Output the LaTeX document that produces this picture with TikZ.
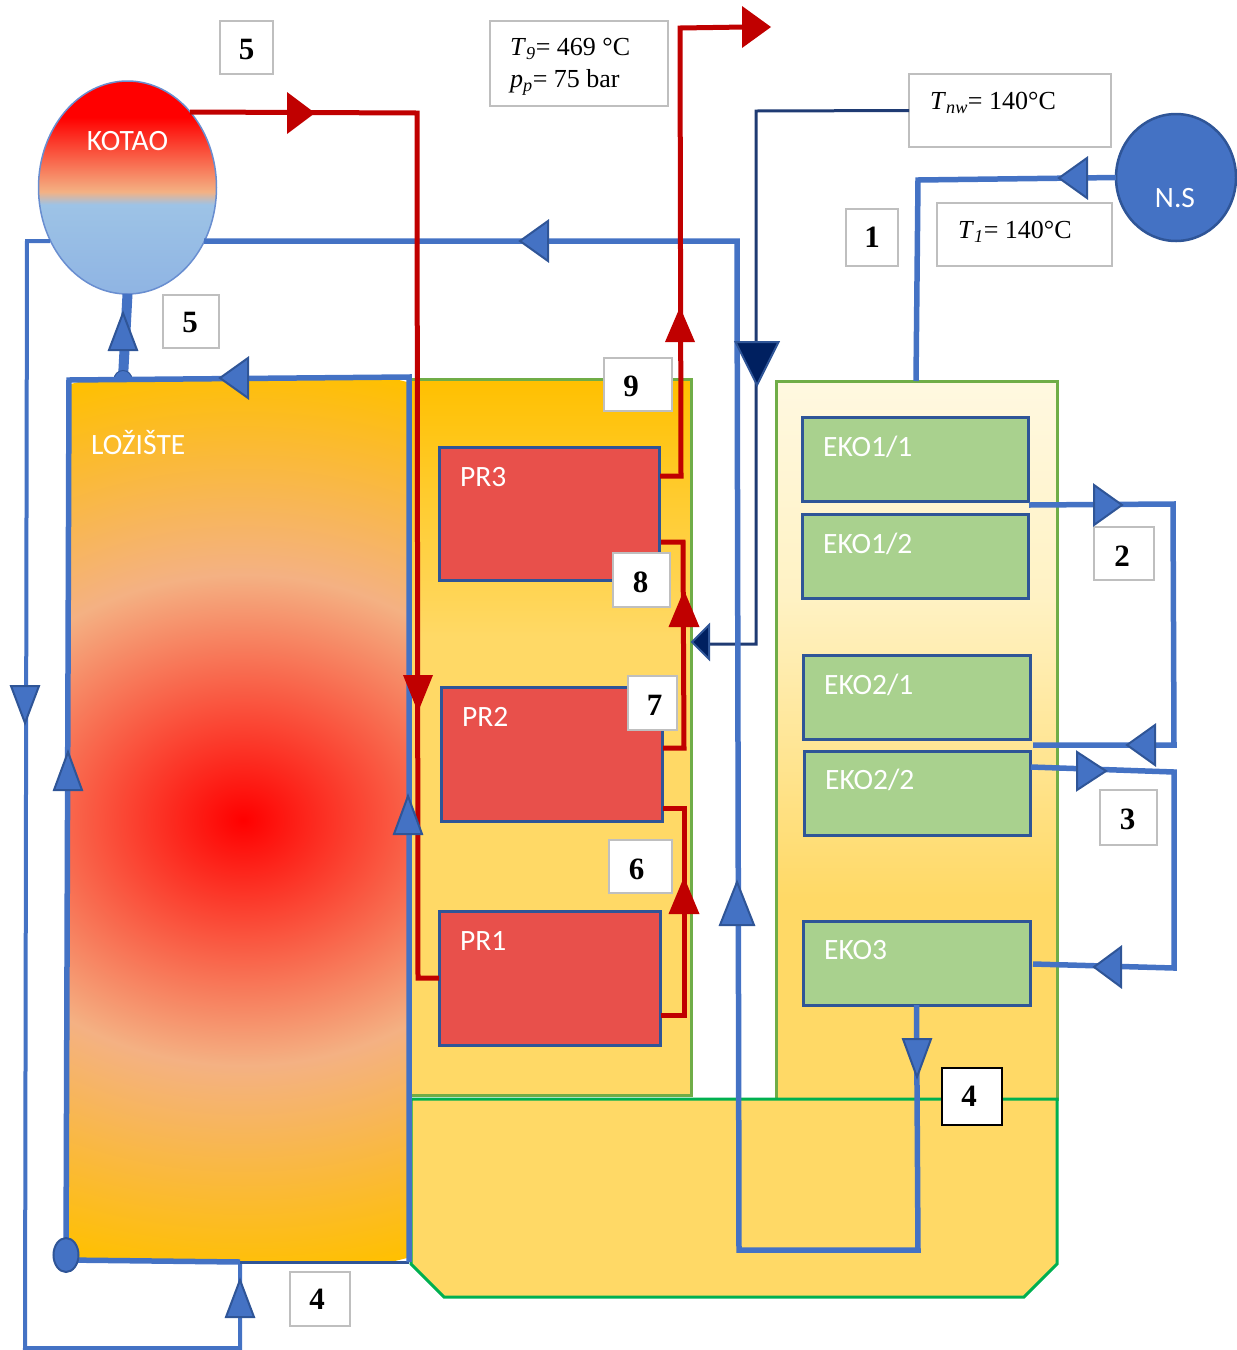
\documentclass[tikz,border=0pt]{standalone}
\usepackage{fontspec}
\setmainfont{Liberation Serif}
\newfontfamily\calibrifont{Carlito}
\usetikzlibrary{shapes.geometric}

\definecolor{waterblue}{HTML}{4472C4}
\definecolor{edgeblue}{HTML}{2F5597}
\definecolor{navypipe}{HTML}{002060}
\definecolor{steamred}{HTML}{C00000}
\definecolor{boxgray}{HTML}{BFBFBF}
\definecolor{heatred}{HTML}{E8504B}
\definecolor{ekogreen}{HTML}{A9D18E}
\definecolor{wallgreen}{HTML}{70AD47}
\definecolor{floorgreen}{HTML}{00B050}
\definecolor{gold}{HTML}{FFC000}
\definecolor{lightgold}{HTML}{FFD966}
\definecolor{cream}{HTML}{FFF2C4}
\definecolor{palecream}{HTML}{FFF8E0}
\definecolor{salmon}{HTML}{F4B183}
\definecolor{drumblue}{HTML}{9DC3E6}
\definecolor{drumbluelow}{HTML}{8FB4E3}

\pgfdeclareverticalshading{kotaoshade}{100bp}{color(0bp)=(drumbluelow); color(25bp)=(drumbluelow); color(46bp)=(drumblue); color(49bp)=(salmon); color(66.5bp)=(red); color(100bp)=(red)}
\pgfdeclareverticalshading{leftshade}{100bp}{color(0bp)=(lightgold); color(57bp)=(lightgold); color(75bp)=(gold); color(100bp)=(gold)}
\pgfdeclareverticalshading{rightshade}{100bp}{color(0bp)=(lightgold); color(39bp)=(lightgold); color(60bp)=(cream); color(75bp)=(palecream); color(100bp)=(palecream)}
\pgfdeclareradialshading{fireshade}{\pgfpoint{0bp}{0bp}}{color(0bp)=(red); color(13.4bp)=(salmon); color(25bp)=(gold); color(50bp)=(gold)}

\tikzset{
	numbox/.style={draw=boxgray, line width=2, fill=white, anchor=north west, inner sep=0, outer sep=0, font=\fontsize{31}{31}\selectfont\bfseries},
	databox/.style={draw=boxgray, line width=2, fill=white, anchor=north west, inner sep=0, outer sep=0},
	datatext/.style={anchor=west, inner sep=0, font=\fontsize{26}{32}\selectfont, align=left},
	prbox/.style={draw=edgeblue, line width=3, fill=heatred, anchor=north west, inner sep=0, outer sep=0},
	ekobox/.style={draw=edgeblue, line width=3, fill=ekogreen, anchor=north west, inner sep=0, outer sep=0},
	partname/.style={text=white, anchor=west, inner sep=0, font=\fontsize{29.5}{30}\selectfont\calibrifont},
	waterpipe/.style={draw=waterblue, line width=5.5, line join=miter},
	steampipe/.style={draw=steamred, line width=5, line join=miter},
	navyline/.style={draw=navypipe!88!white, line width=3, line join=miter},
	watertip/.style={fill=waterblue, draw=edgeblue, line width=2},
	steamtip/.style={fill=steamred},
	navytip/.style={fill=navypipe, draw=edgeblue, line width=2}
}

% tip point, rotation, length, width
\newcommand{\flowtip}[5]{\path[#1, shift={(#2)}, rotate=#3] (0,0) -- (-#4,#5/2) -- (-#4,-#5/2) -- cycle;}
% digit moved by twice dx to the right, and by dy up
\newcommand{\numtext}[3]{\hspace*{#1pt}\raisebox{#2pt}[\height][0pt]{#3}}

\begin{document}
\begin{tikzpicture}[x=1pt, y=-1pt]
	\useasboundingbox (0,0) rectangle (1237,1350);

	%draw the casing
	\path[shade, shading=leftshade, draw=wallgreen, line width=3] (410,379) rectangle (691,1095);
	\path[shade, shading=rightshade, draw=wallgreen, line width=3] (776,381) rectangle (1057,1099);
	\draw[fill=lightgold, draw=floorgreen, line width=3] (411,1099) -- (1057,1099) -- (1057,1264) -- (1024,1297) -- (444,1297) -- (411,1264) -- cycle;

	%draw the furnace
	\begin{scope}
		\clip (68,380) rectangle (409,1262);
		\shade[shading=fireshade] (243,820) ellipse [x radius=560, y radius=458];
	\end{scope}
	\node[partname, text=white] (furnacename) at (91,443) {LOŽIŠTE};

	%draw the drum and the pump
	\node[ellipse, shade, shading=kotaoshade, draw=waterblue!80!white, line width=1.5, minimum width=178, minimum height=213, inner sep=0, outer sep=0] (kotao) at (127.5,187.5) {};
	\node[partname, anchor=center] (kotaoname) at (127.5,141) {KOTAO};
	\node[ellipse, fill=waterblue, draw=edgeblue, line width=2.5, minimum width=120, minimum height=127, inner sep=0, outer sep=0] (ns) at (1176,177.5) {};
	\node[partname, anchor=center] (nsname) at (1175,198) {N.S};

	%draw the heaters
	\node[prbox, minimum width=220, minimum height=133] (pr3) at (439,447) {};
	\node[prbox, minimum width=221, minimum height=134] (pr2) at (441,687) {};
	\node[prbox, minimum width=221, minimum height=134] (pr1) at (439,911) {};
	\node[partname] (pr3name) at (460,477) {PR3};
	\node[partname] (pr2name) at (462,717) {PR2};
	\node[partname] (pr1name) at (460,941) {PR1};

	\node[ekobox, minimum width=226, minimum height=84] (eko11) at (802,417) {};
	\node[ekobox, minimum width=226, minimum height=84] (eko12) at (802,514) {};
	\node[ekobox, minimum width=227, minimum height=84] (eko21) at (803,655) {};
	\node[ekobox, minimum width=226, minimum height=84] (eko22) at (804,751) {};
	\node[ekobox, minimum width=227, minimum height=84] (eko3) at (803,921) {};
	\node[partname] (eko11name) at (823,447) {EKO1/1};
	\node[partname] (eko12name) at (823,544) {EKO1/2};
	\node[partname] (eko21name) at (824,685) {EKO2/1};
	\node[partname] (eko22name) at (825,780) {EKO2/2};
	\node[partname] (eko3name) at (824,950) {EKO3};

	%data boxes
	\node[databox, minimum width=178, minimum height=85] (boxout) at (490,21) {};
	\node[databox, minimum width=202, minimum height=73] (boxnw) at (909,74) {};
	\node[databox, minimum width=175, minimum height=63] (boxone) at (937,203) {};
	\node[datatext] (textout) at (510,67) {\textit{T}\textsubscript{\textit{9}}= 469 °C\\[0pt]\textit{p}\textsubscript{\textit{p}}= 75 bar};
	\node[datatext] (textnw) at (930,103) {\textit{T}\textsubscript{\textit{nw}}= 140°C};
	\node[datatext] (textone) at (958,232) {\textit{T}\textsubscript{\textit{1}}= 140°C};

	%pipe corners
	\coordinate (nwcorner) at (756,111);
	\coordinate (nwdown) at (756,644);
	\coordinate (nwend) at (709,644);
	\coordinate (nscorner) at (918,180);
	\coordinate (nsend) at (916,381);
	\coordinate (eko2a) at (1029,505);
	\coordinate (eko2b) at (1173,504);
	\coordinate (eko2c) at (1174,745);
	\coordinate (eko2d) at (1033,745);
	\coordinate (eko3a) at (1031,767);
	\coordinate (eko3b) at (1174,772);
	\coordinate (eko3c) at (1174,968);
	\coordinate (eko3d) at (1033,964);
	\coordinate (uright) at (918,1250);
	\coordinate (uleft) at (739,1250);
	\coordinate (ubend) at (737,241);
	\coordinate (drumright) at (204,241);
	\coordinate (drumleft) at (50,241);
	\coordinate (downtop) at (27,241);
	\coordinate (downlow) at (25,1348);
	\coordinate (feedlow) at (240,1348);
	\coordinate (feedtop) at (240,1262);
	\coordinate (header) at (66,1260);
	\coordinate (wallleft) at (69,380);
	\coordinate (wallright) at (409,377);
	\coordinate (wallfoot) at (409,1262);
	\coordinate (riserfoot) at (123,378);
	\coordinate (steamstart) at (190,112);
	\coordinate (steamcorner) at (417,113);
	\coordinate (steamlow) at (418,978);
	\coordinate (pr1a) at (661,1015);
	\coordinate (pr1b) at (684,1015);
	\coordinate (pr1c) at (684,808);
	\coordinate (pr1d) at (663,808);
	\coordinate (pr2a) at (663,748);
	\coordinate (pr2b) at (684,748);
	\coordinate (pr2c) at (683,542);
	\coordinate (pr2d) at (661,542);
	\coordinate (pr3a) at (660,476);
	\coordinate (pr3b) at (681,476);
	\coordinate (outcorner) at (680,28);
	\coordinate (outend) at (745,27);

	%navy line from the data box
	\draw[navyline] (boxnw.west) -- (nwcorner) -- (nwdown) -- (nwend);

	%water pipes
	\draw[waterpipe] (ns.west) -- (nscorner) -- (nsend);
	\draw[waterpipe] (eko2a) -- (eko2b) -- (eko2c) -- (eko2d);
	\draw[waterpipe] (eko3a) -- (eko3b) -- (eko3c) -- (eko3d);
	\draw[waterpipe] (eko3.south) -- (uright) -- (uleft) -- (ubend) -- (drumright);
	\draw[waterpipe, line width=4] (drumleft) -- (downtop) -- (downlow) -- (feedlow) -- (feedtop);
	\draw[edgeblue, line width=3] (feedtop) -- (wallfoot);
	\draw[waterpipe, line width=10] (riserfoot) -- (kotao.south);
	\node[semicircle, fill=waterblue, draw=edgeblue, line width=1, minimum size=9, inner sep=0, anchor=south] (riserbase) at (123,380) {};
	\draw[waterpipe] (feedtop) -- (header) -- (wallleft) -- (wallright) -- (wallfoot);
	\node[ellipse, fill=waterblue, draw=edgeblue, line width=2, minimum width=25, minimum height=34, inner sep=0] (headerend) at (66,1255) {};

	%steam pipes
	\draw[steampipe] (steamstart) -- (steamcorner) -- (steamlow) -- (pr1.west |- steamlow);
	\draw[steampipe] (pr1a) -- (pr1b) -- (pr1c) -- (pr1d);
	\draw[steampipe] (pr2a) -- (pr2b) -- (pr2c) -- (pr2d);
	\draw[steampipe] (pr3a) -- (pr3b) -- (outcorner) -- (outend);

	%number boxes
	\node[numbox, minimum width=53, minimum height=53] (num5a) at (220,21) {\numtext{0}{-2}{5}};
	\node[numbox, minimum width=56, minimum height=53] (num5b) at (163,295) {\numtext{-2}{-1}{5}};
	\node[numbox, minimum width=52, minimum height=57] (num1) at (846,209) {\numtext{0}{0}{1}};
	\node[numbox, minimum width=68, minimum height=53] (num9) at (604,358) {\numtext{-14}{-2}{9}};
	\node[numbox, minimum width=57, minimum height=54] (num8) at (613,553) {\numtext{-2}{-2}{8}};
	\node[numbox, minimum width=49, minimum height=54] (num7) at (628,676) {\numtext{4}{-2}{7}};
	\node[numbox, minimum width=63, minimum height=53] (num6) at (609,840) {\numtext{-8}{-3}{6}};
	\node[numbox, minimum width=60, minimum height=53] (num2) at (1094,527) {\numtext{-4}{-3}{2}};
	\node[numbox, minimum width=57, minimum height=55] (num3) at (1100,790) {\numtext{-2}{-2}{3}};
	\node[numbox, draw=black, minimum width=60, minimum height=57] (num4a) at (942,1068) {\numtext{-6}{0}{4}};
	\node[numbox, minimum width=60, minimum height=54] (num4b) at (290,1272) {\numtext{-6}{0}{4}};

	%arrow heads
	\flowtip{watertip}{123,313}{90}{37}{28}
	\flowtip{watertip}{220,378}{180}{28}{40}
	\flowtip{watertip}{520,241}{180}{28}{40}
	\flowtip{watertip}{1059,178}{180}{28}{40}
	\flowtip{watertip}{25,723}{-90}{37}{28}
	\flowtip{watertip}{68,752}{90}{38}{28}
	\flowtip{watertip}{408,796}{90}{38}{28}
	\flowtip{watertip}{737,882}{90}{43}{34}
	\flowtip{watertip}{240,1280}{90}{37}{28}
	\flowtip{watertip}{917,1077}{-90}{38}{28}
	\flowtip{watertip}{1122,505}{0}{28}{40}
	\flowtip{watertip}{1127,745}{180}{28}{40}
	\flowtip{watertip}{1106,771}{0}{29}{38}
	\flowtip{watertip}{1094,967}{180}{27}{40}
	\flowtip{navytip}{757,385}{-90}{43}{43}
	\flowtip{navytip}{692,642}{180}{17}{34}
	\flowtip{steamtip}{315,113}{0}{28}{42}
	\flowtip{steamtip}{418,712}{-90}{37}{30}
	\flowtip{steamtip}{684,877}{90}{37}{31}
	\flowtip{steamtip}{684,590}{90}{37}{31}
	\flowtip{steamtip}{680,307}{90}{35}{30}
	\flowtip{steamtip}{771,27}{0}{29}{42}
\end{tikzpicture}
\end{document}
